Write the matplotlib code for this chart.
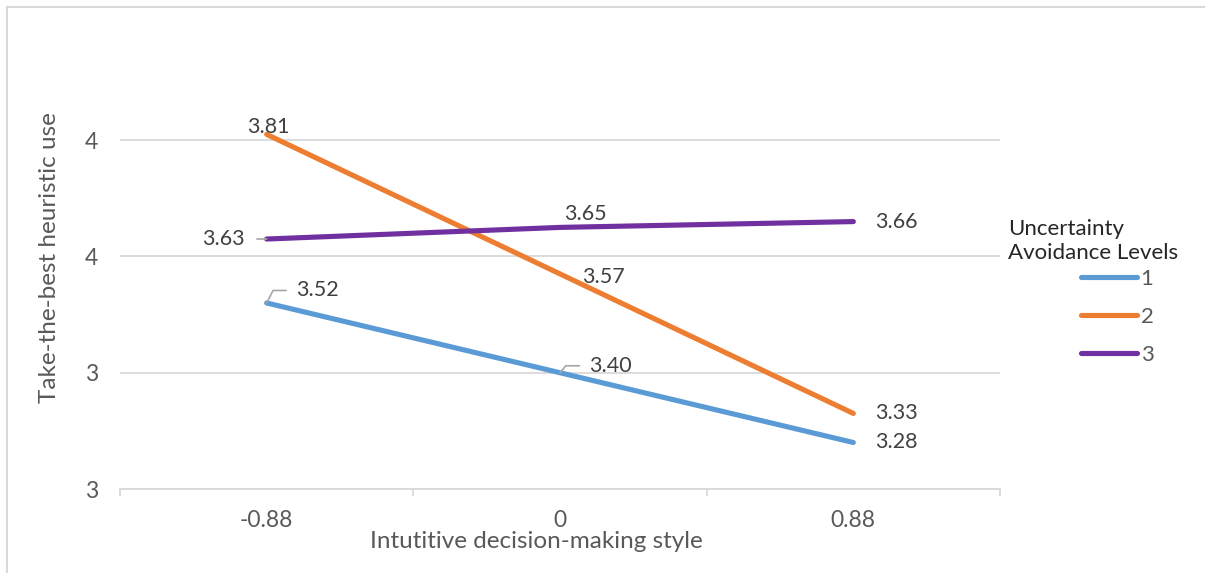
import matplotlib.pyplot as plt
from matplotlib.patches import Rectangle
from matplotlib.ticker import FixedLocator, FormatStrFormatter

plt.rcParams['font.family'] = ['Lato', 'DejaVu Sans']

# category labels on the x axis and the three series
x_labels = ['-0.88', '0', '0.88']
levels = ['1', '2', '3']
level_1 = [3.52, 3.40, 3.28]
level_2 = [3.81, 3.57, 3.33]
level_3 = [3.63, 3.65, 3.66]
colors = ['#5B9BD5', '#ED7D31', '#7030A0']

W, H = 1205, 573
fig = plt.figure(figsize=(W / 100, H / 100), dpi=100)
# chart border
fig.patches.append(Rectangle((7 / W, -0.1), 1.2, 1 - 7 / H + 0.1, transform=fig.transFigure,
                             fill=False, edgecolor='#D9D9D9', linewidth=1.5))

ax = fig.add_axes([120 / W, 1 - 489 / H, 880 / W, (489 - 53) / H])
xs = range(len(x_labels))
series = [level_1, level_2, level_3]
for vals, c, lab in zip(series, colors, levels):
    ax.plot(xs, vals, color=c, linewidth=3.7, solid_capstyle='round', label=lab, zorder=3)

ax.set_xlim(-0.5, 2.5)
ax.set_ylim(3.2, 3.95)
ax.yaxis.set_major_locator(FixedLocator([3.2, 3.4, 3.6, 3.8]))
ax.yaxis.set_major_formatter(FormatStrFormatter('%.0f'))
ax.grid(axis='y', color='#D9D9D9', linewidth=1.3)
ax.set_axisbelow(True)
for s in ['top', 'right', 'left']:
    ax.spines[s].set_visible(False)
ax.spines['bottom'].set_color('#D9D9D9')
ax.spines['bottom'].set_linewidth(1.3)

ax.set_xticks(list(xs))
ax.set_xticklabels(x_labels)
ax.set_xticks([-0.5, 0.5, 1.5, 2.5], minor=True)
ax.tick_params(axis='x', which='major', length=0, pad=15, labelsize=16.5, labelcolor='#595959')
ax.tick_params(axis='x', which='minor', length=5, width=1.3, color='#D9D9D9', direction='out')
ax.tick_params(axis='y', length=0, pad=16, labelsize=16.5, labelcolor='#595959')

ax.set_xlabel('Intutitive decision-making style', fontsize=17.5, color='#595959')
ax.xaxis.set_label_coords((536 - 120) / 880, -(531 - 489) / 436)
ax.set_ylabel('Take-the-best heuristic use', fontsize=17.5, color='#595959')
ax.yaxis.set_label_coords(-(120 - 60) / 880, 0.53)

# data labels
lab_kw = dict(textcoords='offset points', fontsize=15.5, color='#404040', va='center')
lead = dict(arrowstyle='-', color='#A6A6A6', linewidth=1.2, shrinkB=0)

ax.annotate(f'{level_2[0]:.2f}', (0, level_2[0]), xytext=(1.5, 5), ha='center', **lab_kw)
ax.annotate(f'{level_2[1]:.2f}', (1, level_2[1]), xytext=(31.5, -2), ha='center', **lab_kw)
ax.annotate(f'{level_2[2]:.2f}', (2, level_2[2]), xytext=(31, 0), ha='center', **lab_kw)

ax.annotate(f'{level_3[0]:.2f}', (0, level_3[0]), xytext=(-16, 0), ha='right',
            arrowprops=dict(lead, shrinkA=7), **lab_kw)
ax.annotate(f'{level_3[1]:.2f}', (1, level_3[1]), xytext=(18, 10), ha='center', **lab_kw)
ax.annotate(f'{level_3[2]:.2f}', (2, level_3[2]), xytext=(31, 0), ha='center', **lab_kw)

ax.annotate(f'{level_1[0]:.2f}', (0, level_1[0]), xytext=(21, 9), ha='left',
            arrowprops=dict(lead, shrinkA=5, relpos=(0, 0.5),
                            connectionstyle='angle,angleA=0,angleB=63,rad=0'), **lab_kw)
ax.annotate(f'{level_1[1]:.2f}', (1, level_1[1]), xytext=(21, 5), ha='left',
            arrowprops=dict(lead, shrinkA=5, relpos=(0, 0.5),
                            connectionstyle='angle,angleA=0,angleB=50,rad=0'), **lab_kw)
ax.annotate(f'{level_1[2]:.2f}', (2, level_1[2]), xytext=(31, 0), ha='center', **lab_kw)

# legend
fig.text(1008 / W, 1 - 241 / H, 'Uncertainty\nAvoidance Levels', fontsize=16, color='#262626',
         ha='left', va='center', linespacing=1.3)
fig.legend(loc='upper left', bbox_to_anchor=(1081 / W, 1 - 269 / H), frameon=False,
           fontsize=16, labelcolor='#595959', handlelength=2.5, handletextpad=0.18,
           labelspacing=0.8, borderpad=0, borderaxespad=0)

fig.savefig('out.png', dpi=100)
